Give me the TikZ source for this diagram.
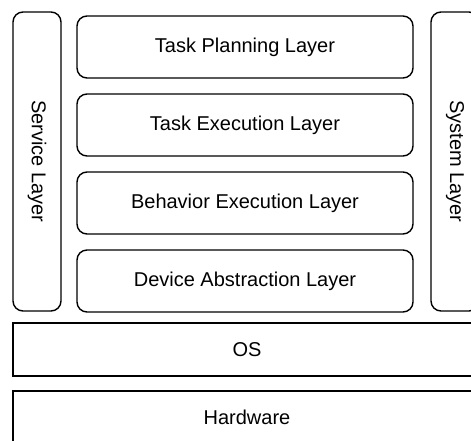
\documentclass[tikz,border=0pt]{standalone}
\usepackage{fontspec}
\setmainfont{Liberation Sans}

\tikzset{
  layer/.style={draw,line width=0.7pt,rounded corners=5pt,
    minimum width=168pt,minimum height=31pt,
    font=\fontsize{10}{12}\selectfont},
  sidelayer/.style={layer,rotate=-90,minimum width=149.5pt},
  baselayer/.style={layer,rounded corners=0pt,minimum width=234pt}
}

\begin{document}
\begin{tikzpicture}[x=0.5pt,y=-0.5pt]
 \useasboundingbox (0,0) rectangle (471,440);
 \clip (0,0) rectangle (471,440);
 % middleware stack
 \node[layer] (plan) at (245,47) {Task Planning Layer};
 \node[layer] (exec) at (245,125) {Task Execution Layer};
 \node[layer] (behav) at (245,203) {Behavior Execution Layer};
 \node[layer] (dev) at (245,281) {Device Abstraction Layer};
 % the two side columns
 \node[sidelayer,minimum height=24pt] (serv) at (37,161.5) {Service Layer};
 \node[sidelayer,minimum height=24pt] (sys) at (455,161.5) {System Layer};
 % below the stack
 \node[baselayer,minimum height=26.5pt] (os) at (247,349.5) {OS};
 \node[baselayer,minimum height=26pt] (hw) at (247,417) {Hardware};
\end{tikzpicture}
\end{document}
